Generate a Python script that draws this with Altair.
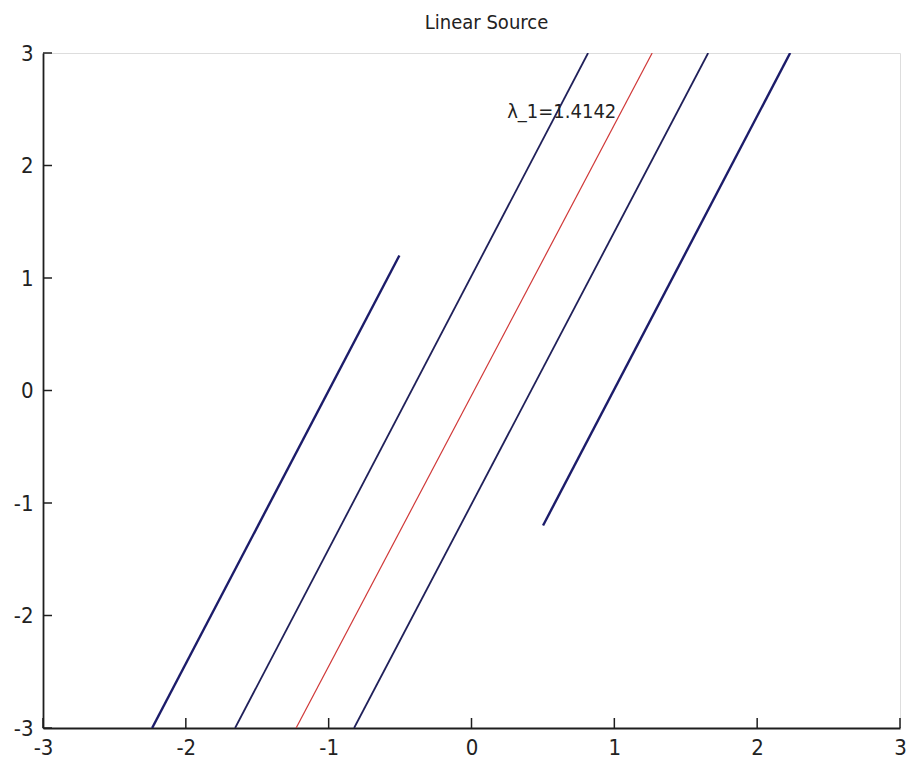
import altair as alt
import pandas as pd

# Line segments (series id, x start, y start, x end, y end)
series_ids = ["a", "b", "red", "d", "e"]
x_start = [-2.236, -1.655, -1.228, -0.822, 0.501]
y_start = [-3.0, -3.0, -3.0, -3.0, -1.2]
x_end = [-0.505, 0.816, 1.265, 1.657, 2.231]
y_end = [1.2, 3.0, 3.0, 3.0, 3.0]
line_kind = ["thick", "thin", "red", "thin", "thick"]

tick_values = [-3, -2, -1, 0, 1, 2, 3]

label_text = ["λ_1=1.4142"]
label_x = [0.25]
label_y = [2.48]

FONT = "Liberation Sans Narrow, DejaVu Sans Condensed, Arial Narrow, Liberation Sans, sans-serif"

rows = []
for sid, x0, y0, x1, y1, k in zip(series_ids, x_start, y_start, x_end, y_end, line_kind):
    rows.append({"id": sid, "x": x0, "y": y0, "o": 0, "kind": k})
    rows.append({"id": sid, "x": x1, "y": y1, "o": 1, "kind": k})
lines_df = pd.DataFrame(rows)

W, H = 857, 675
xs = alt.Scale(domain=[-3, 3], nice=False, zero=False)
ys = alt.Scale(domain=[-3, 3], nice=False, zero=False)

x_axis = alt.Axis(values=tick_values, labelExpr="'' + datum.value", grid=False, ticks=False, tickSize=0,
                  labelPadding=9, domainColor="#1e1e1e", domainWidth=1.8,
                  labelFont=FONT, labelFontSize=22, labelColor="#222222",
                  labelFlush=False, labelOverlap=False, labelBound=False, title=None)
y_axis = alt.Axis(values=tick_values, labelExpr="'' + datum.value", grid=False, ticks=False, tickSize=0,
                  labelPadding=10, domainColor="#1e1e1e", domainWidth=1.8,
                  labelFont=FONT, labelFontSize=22, labelColor="#222222",
                  labelFlush=False, labelOverlap=False, labelBound=False, title=None)

base_lines = alt.Chart(lines_df).mark_line(clip=True).encode(
    x=alt.X("x:Q", scale=xs, axis=x_axis),
    y=alt.Y("y:Q", scale=ys, axis=y_axis),
    detail="id:N",
    order="o:Q",
    color=alt.Color("kind:N", scale=alt.Scale(domain=["thick", "thin", "red"],
                                              range=["#1c1c6a", "#20205a", "#d03838"]),
                    legend=None),
    strokeWidth=alt.StrokeWidth("kind:N", scale=alt.Scale(domain=["thick", "thin", "red"],
                                                         range=[2.4, 1.2, 1.2]),
                                legend=None),
)

ticks_df = pd.DataFrame({"v": tick_values})
xticks = alt.Chart(ticks_df).mark_rule(color="#1e1e1e", strokeWidth=1.5).encode(
    x=alt.X("v:Q", scale=xs),
    y=alt.value(H),
    y2=alt.value(H - 10),
)
yticks = alt.Chart(ticks_df).mark_rule(color="#1e1e1e", strokeWidth=1.5).encode(
    y=alt.Y("v:Q", scale=ys),
    x=alt.value(0),
    x2=alt.value(9),
)

label_df = pd.DataFrame({"t": label_text, "x": label_x, "y": label_y})
lam = alt.Chart(label_df).mark_text(align="left", baseline="middle", font=FONT,
                                    fontSize=20, color="#222222").encode(
    x=alt.X("x:Q", scale=xs),
    y=alt.Y("y:Q", scale=ys),
    text="t:N",
)

chart = alt.layer(base_lines, xticks, yticks, lam).properties(
    width=W, height=H,
    title=alt.TitleParams("Linear Source", font=FONT, fontSize=20, fontWeight="normal",
                          color="#222222", frame="group", anchor="middle", dx=15,
                          baseline="bottom", offset=-11),
    autosize=alt.AutoSizeParams(type="none"),
    padding={"left": 43, "top": 53, "right": 8, "bottom": 33},
).configure_view(stroke=None).configure(background="white")

chart.save("out.html", embed_options={"renderer": "svg", "actions": False})
